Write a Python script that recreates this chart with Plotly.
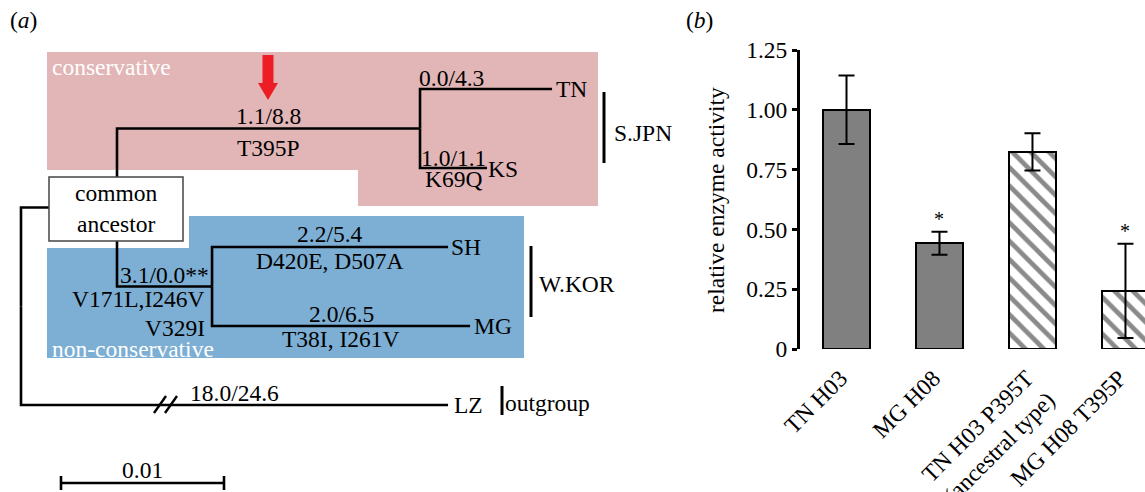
import plotly.graph_objects as go

W, H = 1145, 492
FONT = "Liberation Serif, Times New Roman, serif"
FS = 23.5

# ---------------- panel (b): relative enzyme activity ----------------
samples = ["TN H03", "MG H08", "TN H03 P395T<br>(ancestral type)", "MG H08 T395P"]
activity = [1.00, 0.442, 0.824, 0.243]
activity_err = [0.143, 0.048, 0.078, 0.197]
significant = [False, True, False, True]
hatched = [False, False, True, True]
y_tick_vals = [0, 0.25, 0.5, 0.75, 1.0, 1.25]
y_tick_text = ["0", "0.25", "0.50", "0.75", "1.00", "1.25"]

# ---------------- panel (a): phylogenetic tree ----------------
node_names = ["root", "ancestor", "cons", "TN", "KS", "noncons", "SH", "MG", "LZ"]
node_parent = [None, "root", "ancestor", "cons", "cons", "ancestor", "noncons", "noncons", "root"]
branch_length = [0.0, 0.00589, 0.01859, 0.0081, 0.00411, 0.00583, 0.01448, 0.01583, 0.0262]
leaf_rows = {"TN": 0, "KS": 1, "SH": 2, "MG": 3, "LZ": 4}
branch_upper = {"cons": "1.1/8.8", "TN": "0.0/4.3", "KS": "1.0/1.1", "noncons": "3.1/0.0**",
                "SH": "2.2/5.4", "MG": "2.0/6.5", "LZ": "18.0/24.6"}
branch_lower = {"cons": ["T395P"], "KS": ["K69Q"], "noncons": ["V171L,I246V", "V329I"],
                "SH": ["D420E, D507A"], "MG": ["T38I, I261V"]}
clade_names = ["S.JPN", "W.KOR", "outgroup"]
scale_bar_length = 0.01
scale_bar_label = "0.01"

# ---------------- tree geometry from the data ----------------
parent_of = dict(zip(node_names, node_parent))
bl = dict(zip(node_names, branch_length))
tx = {}
for n in node_names:
    p = parent_of[n]
    tx[n] = 0.0 if p is None else tx[p] + bl[n]
children = {n: [c for c in node_names if parent_of[c] == n] for n in node_names}
ty = {}
def row(n):
    if n in leaf_rows:
        ty[n] = leaf_rows[n]
    else:
        ty[n] = sum(row(c) for c in children[n]) / len(children[n])
    return ty[n]
row("root")

# pixel mapping of tree axes (layout)
X0PX, PX_PER_UNIT = 21, 16300.0
Y0PX, PX_PER_ROW = 89, 79.0
x2_range = [-X0PX / PX_PER_UNIT, (W - X0PX) / PX_PER_UNIT]
y2_range = [(H - Y0PX) / PX_PER_ROW, -Y0PX / PX_PER_ROW]

def px(x):
    return x / W
def py(y):
    return 1 - y / H

fig = go.Figure()

# tree branches
lx, ly = [], []
for n in node_names:
    p = parent_of[n]
    if p is None:
        continue
    lx += [tx[p], tx[p], tx[n], None]
    ly += [ty[p], ty[n], ty[n], None]
fig.add_trace(go.Scatter(x=lx, y=ly, mode="lines", line=dict(color="black", width=2.6),
                         xaxis="x2", yaxis="y2", hoverinfo="skip", showlegend=False))

# scale bar
sb_x0 = tx["root"] + 40 / PX_PER_UNIT
sb_y = (483 - Y0PX) / PX_PER_ROW
tk = 7 / PX_PER_ROW
fig.add_trace(go.Scatter(
    x=[sb_x0, sb_x0 + scale_bar_length, None, sb_x0, sb_x0, None,
       sb_x0 + scale_bar_length, sb_x0 + scale_bar_length],
    y=[sb_y, sb_y, None, sb_y - tk, sb_y + tk, None, sb_y - tk, sb_y + tk],
    mode="lines", line=dict(color="black", width=2.6), xaxis="x2", yaxis="y2",
    hoverinfo="skip", showlegend=False))

# bars: solid and hatched as two traces
idx_solid = [i for i, h in enumerate(hatched) if not h]
idx_hatch = [i for i, h in enumerate(hatched) if h]
fig.add_trace(go.Bar(
    x=idx_solid, y=[activity[i] for i in idx_solid], width=0.5,
    marker=dict(color="#808080", line=dict(color="black", width=2)),
    error_y=dict(type="data", array=[activity_err[i] for i in idx_solid], color="black",
                 thickness=2, width=8),
    showlegend=False, hoverinfo="skip"))
fig.add_trace(go.Bar(
    x=idx_hatch, y=[activity[i] for i in idx_hatch], width=0.5,
    marker=dict(color="#8a8a8a", line=dict(color="black", width=2),
                pattern=dict(shape="\\", fgcolor="#8a8a8a", bgcolor="white", size=13,
                             solidity=0.36, fillmode="replace")),
    error_y=dict(type="data", array=[activity_err[i] for i in idx_hatch], color="black",
                 thickness=2, width=8),
    showlegend=False, hoverinfo="skip"))

shapes = []
# colored regions
pink = [(47, 52), (598, 52), (598, 206), (358, 206), (358, 170), (47, 170)]
blue = [(47, 248), (189, 248), (189, 216), (524, 216), (524, 358), (47, 358)]
for poly, col in ((pink, "#E2B6B6"), (blue, "#7DAED3")):
    path = "M " + " L ".join(f"{px(a):.5f},{py(b):.5f}" for a, b in poly) + " Z"
    shapes.append(dict(type="path", path=path, xref="paper", yref="paper",
                       fillcolor=col, line=dict(width=0), layer="below"))
# common ancestor box
shapes.append(dict(type="rect", xref="paper", yref="paper", x0=px(49), x1=px(183),
                   y0=py(177), y1=py(241), fillcolor="white",
                   line=dict(color="#444444", width=1.5), layer="above"))
# red arrow
arrow = [(262.5, 55), (273.5, 55), (273.5, 83), (278, 83), (268, 100), (258, 83), (262.5, 83)]
shapes.append(dict(type="path", xref="paper", yref="paper",
                   path="M " + " L ".join(f"{px(a):.5f},{py(b):.5f}" for a, b in arrow) + " Z",
                   fillcolor="#EE1C25", line=dict(width=0), layer="above"))
# break marks on the outgroup branch
for bx in (154, 165):
    shapes.append(dict(type="line", xref="paper", yref="paper", x0=px(bx), y0=py(413),
                       x1=px(bx + 12), y1=py(396), line=dict(color="black", width=2.4)))
# clade bars
for xb, y0, y1 in ((604, 92, 163), (531, 246, 317), (502, 386, 415)):
    shapes.append(dict(type="line", xref="paper", yref="paper", x0=px(xb), x1=px(xb),
                       y0=py(y0), y1=py(y1), line=dict(color="black", width=3)))

ann = []
def text(x, y, s, size=FS, color="black", xanchor="center", yanchor="middle", **kw):
    ann.append(dict(x=x, y=y, text=s, showarrow=False, xanchor=xanchor, yanchor=yanchor,
                    font=dict(family=FONT, size=size, color=color), **kw))

# panel letters
text(px(8), py(20), "(<i>a</i>)", xref="paper", yref="paper", xanchor="left")
text(px(684), py(20), "(<i>b</i>)", xref="paper", yref="paper", xanchor="left")
# region labels
text(px(50), py(67), "conservative", color="white", xref="paper", yref="paper", xanchor="left")
text(px(50), py(349), "non-conservative", color="white", xref="paper", yref="paper", xanchor="left")
# ancestor box text
text(px(116), py(193), "common", xref="paper", yref="paper")
text(px(116), py(224), "ancestor", xref="paper", yref="paper")

# branch labels
upper_shift = {"cons": 13, "TN": 11, "KS": 10, "noncons": 12, "SH": 13, "MG": 12, "LZ": 12}
lower_shift = {"cons": [-19], "KS": [-11], "noncons": [-12, -41], "SH": [-14], "MG": [-13]}
for n, s in branch_upper.items():
    p = parent_of[n]
    if n == "TN":
        text(tx[p], ty[n], s, xanchor="left", xref="x2", yref="y2", yshift=upper_shift[n], xshift=-3)
    else:
        text((tx[p] + tx[n]) / 2, ty[n], s, xref="x2", yref="y2", yshift=upper_shift[n])
for n, lines in branch_lower.items():
    p = parent_of[n]
    for s, sh in zip(lines, lower_shift[n]):
        if n == "noncons":
            text(tx[n], ty[n], s, xanchor="right", xref="x2", yref="y2", yshift=sh, xshift=-5)
        else:
            text((tx[p] + tx[n]) / 2, ty[n], s, xref="x2", yref="y2", yshift=sh)
# leaf names
leaf_xshift = {"TN": 2, "KS": -1, "SH": 1, "MG": 2, "LZ": 4}
leaf_yshift = {"TN": 0, "KS": -1, "SH": 0, "MG": 0, "LZ": 0}
for n in leaf_rows:
    text(tx[n], ty[n], n, xanchor="left", xref="x2", yref="y2", xshift=leaf_xshift[n],
         yshift=leaf_yshift[n])
# clade names
for name, (xl, yc) in zip(clade_names, ((612, 133), (537, 284), (503, 403))):
    text(px(xl), py(yc), name, xref="paper", yref="paper", xanchor="left")
# scale label
text(sb_x0 + scale_bar_length / 2, sb_y, scale_bar_label, xref="x2", yref="y2", yshift=13)

# significance stars
for i, sig in enumerate(significant):
    if sig:
        text(i, activity[i] + activity_err[i], "*", size=20, xref="x", yref="y",
             yanchor="bottom", yshift=0)
# y-axis title
text(px(716), py(200), "relative enzyme activity", xref="paper", yref="paper", textangle=-90)

fig.update_layout(
    width=W, height=H, margin=dict(l=0, r=0, t=0, b=0),
    template="none", paper_bgcolor="white", plot_bgcolor="rgba(0,0,0,0)",
    shapes=shapes, annotations=ann, showlegend=False, bargap=0, barmode="overlay",
    xaxis=dict(domain=[px(800), 1], range=[-0.5, 3.21], tickvals=list(range(len(samples))),
               ticktext=samples, tickangle=-45, showline=False, ticks="", showgrid=False,
               zeroline=False, automargin=False, fixedrange=True,
               ticklabelstandoff=10, ticklabelshift=-6,
               tickfont=dict(family=FONT, size=FS, color="black")),
    yaxis=dict(domain=[py(349), py(50)], range=[0, 1.25], tickvals=y_tick_vals,
               ticktext=y_tick_text, showline=True, linewidth=3, linecolor="black",
               ticks="outside", ticklen=5, tickwidth=3, tickcolor="black", showgrid=False,
               zeroline=False, automargin=False, ticklabelstandoff=0, fixedrange=True,
               tickfont=dict(family=FONT, size=FS, color="black")),
    xaxis2=dict(domain=[0, 1], range=x2_range, anchor="y2", visible=False, fixedrange=True),
    yaxis2=dict(domain=[0, 1], range=y2_range, anchor="x2", visible=False, fixedrange=True),
)

fig.write_html("out.html", config={"displayModeBar": False},
               post_script="document.body.style.margin='0';document.body.style.overflow='hidden';")
